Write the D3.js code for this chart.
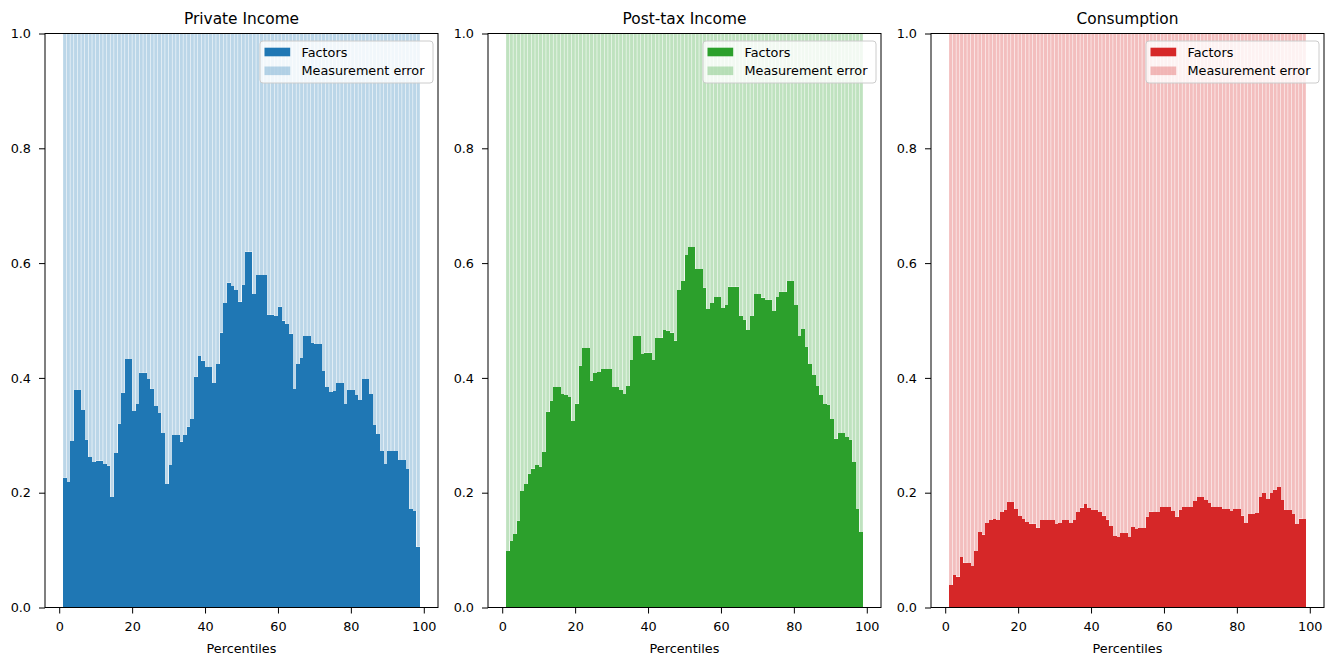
<!DOCTYPE html>
<html><head><meta charset="utf-8">
<script src="https://cdn.jsdelivr.net/npm/d3@7"></script>
<style>body{margin:0;background:#fff} svg{display:block} text{font-family:"DejaVu Sans",sans-serif;fill:#000}</style>
</head><body><svg id="c" width="1335" height="660"></svg>
<script>
const percentiles = [1,2,3,4,5,6,7,8,9,10,11,12,13,14,15,16,17,18,19,20,21,22,23,24,25,26,27,28,29,30,31,32,33,34,35,36,37,38,39,40,41,42,43,44,45,46,47,48,49,50,51,52,53,54,55,56,57,58,59,60,61,62,63,64,65,66,67,68,69,70,71,72,73,74,75,76,77,78,79,80,81,82,83,84,85,86,87,88,89,90,91,92,93,94,95,96,97,98];
const privateIncome = [0.226,0.218,0.290,0.379,0.379,0.344,0.292,0.262,0.253,0.256,0.256,0.250,0.247,0.192,0.269,0.320,0.374,0.433,0.433,0.342,0.354,0.409,0.409,0.398,0.381,0.351,0.339,0.304,0.215,0.248,0.300,0.300,0.289,0.300,0.315,0.328,0.402,0.438,0.430,0.419,0.419,0.391,0.424,0.479,0.530,0.566,0.560,0.553,0.533,0.562,0.620,0.620,0.546,0.579,0.579,0.579,0.510,0.510,0.508,0.524,0.500,0.494,0.477,0.380,0.424,0.434,0.473,0.473,0.461,0.459,0.459,0.412,0.384,0.375,0.377,0.391,0.391,0.354,0.379,0.379,0.370,0.361,0.398,0.398,0.372,0.318,0.302,0.272,0.250,0.272,0.272,0.272,0.257,0.257,0.241,0.171,0.168,0.106];
const postTaxIncome = [0.098,0.116,0.128,0.151,0.203,0.215,0.233,0.242,0.248,0.245,0.271,0.341,0.360,0.384,0.384,0.372,0.370,0.366,0.325,0.355,0.421,0.452,0.452,0.395,0.408,0.410,0.415,0.415,0.415,0.384,0.384,0.379,0.372,0.386,0.431,0.473,0.473,0.441,0.444,0.444,0.431,0.469,0.470,0.483,0.482,0.479,0.465,0.553,0.569,0.614,0.628,0.628,0.589,0.589,0.557,0.520,0.530,0.541,0.541,0.521,0.527,0.559,0.559,0.559,0.508,0.501,0.483,0.508,0.546,0.546,0.540,0.536,0.536,0.516,0.541,0.550,0.550,0.569,0.569,0.527,0.473,0.485,0.454,0.424,0.405,0.386,0.370,0.354,0.353,0.328,0.294,0.304,0.304,0.297,0.292,0.253,0.171,0.131];
const consumption = [0.039,0.056,0.054,0.088,0.078,0.077,0.072,0.098,0.131,0.127,0.147,0.152,0.154,0.152,0.166,0.170,0.184,0.184,0.171,0.159,0.154,0.149,0.146,0.146,0.139,0.152,0.152,0.152,0.152,0.145,0.147,0.152,0.152,0.147,0.152,0.166,0.174,0.180,0.173,0.170,0.170,0.166,0.160,0.153,0.142,0.124,0.122,0.129,0.130,0.122,0.140,0.136,0.138,0.138,0.158,0.167,0.166,0.166,0.175,0.175,0.175,0.168,0.158,0.170,0.175,0.175,0.175,0.185,0.192,0.192,0.187,0.182,0.175,0.175,0.175,0.171,0.171,0.168,0.171,0.171,0.160,0.147,0.163,0.163,0.164,0.192,0.199,0.189,0.199,0.205,0.210,0.187,0.170,0.170,0.163,0.145,0.155,0.154];
const panelTitles = ["Private Income","Post-tax Income","Consumption"];
const seriesLabels = ["Factors","Measurement error"];
const panelColors = ["#1f77b4","#2ca02c","#d62728"];
const xTicks = [0,20,40,60,80,100];
const yTicks = [0,0.2,0.4,0.6,0.8,1.0];
const xLabel = "Percentiles";

const panels = [privateIncome, postTaxIncome, consumption];
const svg = d3.select("#c");
const lefts = [45, 488, 931];
const axTop = 33.5, W = 393, H = 574;
const FS = 12.8;

panels.forEach((vals, pi) => {
  const color = panelColors[pi];
  const g = svg.append("g").attr("transform", `translate(${lefts[pi]},${axTop})`);
  const x = d3.scaleLinear().domain([-3.9, 103.9]).range([0, W]);
  const y = d3.scaleLinear().domain([0, 1]).range([H, 0]);
  const rows = percentiles.map((p, i) => ({p, f: vals[i]}));
  const stack = d3.stack().keys(["f","e"]).value((d, k) => k === "f" ? d.f : 1 - d.f)(rows);

  g.append("g").selectAll("rect").data(stack[0]).join("rect")
    .attr("x", d => x(d.data.p)).attr("width", d => x(d.data.p + 1) - x(d.data.p))
    .attr("y", d => y(d[1])).attr("height", d => y(d[0]) - y(d[1]))
    .attr("fill", color).attr("shape-rendering", "crispEdges");
  g.append("g").selectAll("rect").data(stack[1]).join("rect")
    .attr("x", d => x(d.data.p) + 0.25).attr("width", d => x(d.data.p + 1) - x(d.data.p) - 0.55)
    .attr("y", d => y(d[1])).attr("height", d => y(d[0]) - y(d[1]))
    .attr("fill", color).attr("fill-opacity", 0.3);

  const xa = g.append("g").attr("transform", `translate(0,${H})`)
    .call(d3.axisBottom(x).tickValues(xTicks).tickFormat(d3.format("d")).tickSize(6).tickPadding(8.5));
  const ya = g.append("g")
    .call(d3.axisLeft(y).tickValues(yTicks).tickFormat(d3.format(".1f")).tickSize(6).tickPadding(8));
  [xa, ya].forEach(a => {
    a.select(".domain").remove();
    a.selectAll("text").attr("font-size", FS).attr("font-family", "DejaVu Sans").attr("fill", "#000");
    a.selectAll("line").attr("stroke", "#000").attr("stroke-width", 1);
  });

  g.append("rect").attr("x", 0).attr("y", 0).attr("width", W).attr("height", H)
    .attr("fill", "none").attr("stroke", "#000").attr("stroke-width", 1);

  g.append("text").attr("x", W / 2).attr("y", -10).attr("text-anchor", "middle")
    .attr("font-size", 15.4).text(panelTitles[pi]);
  g.append("text").attr("x", W / 2).attr("y", H + 45).attr("text-anchor", "middle")
    .attr("font-size", FS).text(xLabel);

  // legend
  const lw = 173, lh = 42;
  const lx = W - 5 - lw, ly = 7.5;
  const lg = g.append("g").attr("transform", `translate(${lx},${ly})`);
  lg.append("rect").attr("width", lw).attr("height", lh).attr("rx", 3)
    .attr("fill", "#fff").attr("fill-opacity", 0.8).attr("stroke", "#ccc").attr("stroke-width", 1);
  seriesLabels.forEach((lab, k) => {
    const cy = 11 + k * 18.8;
    lg.append("rect").attr("x", 4.5).attr("y", cy - 4.3).attr("width", 25.7).attr("height", 8.6)
      .attr("fill", color).attr("fill-opacity", k === 0 ? 1 : 0.3);
    lg.append("text").attr("x", 41.5).attr("y", cy + 4.6).attr("font-size", FS).text(lab);
  });
});
</script></body></html>
